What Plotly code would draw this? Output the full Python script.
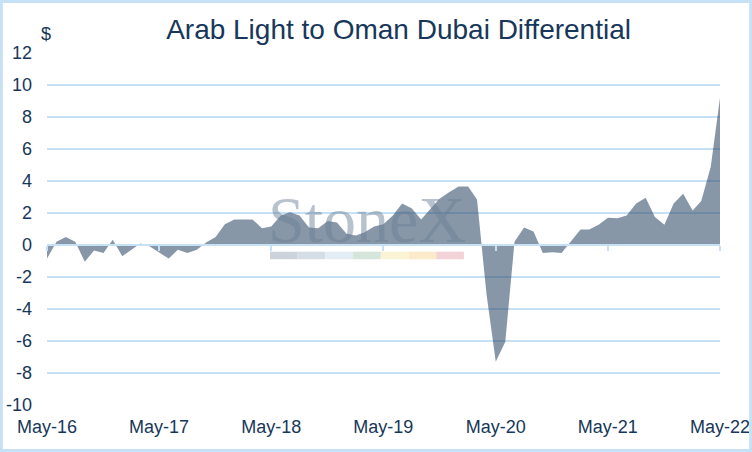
import plotly.graph_objects as go

# monthly differential, May-16 .. May-22 ($/bbl)
months = ["2016-%02d-01" % m for m in range(5, 13)]
for yr in range(2017, 2022):
    months += ["%d-%02d-01" % (yr, m) for m in range(1, 13)]
months += ["2022-%02d-01" % m for m in range(1, 6)]

differential = [
    -0.85, 0.2, 0.5, 0.2, -1.05, -0.35, -0.5, 0.33,
    -0.7, -0.25, 0.1, -0.1, -0.45, -0.85, -0.3, -0.5, -0.3, 0.15, 0.5, 1.3,
    1.6, 1.6, 1.6, 1.05, 1.15, 1.85, 2.05, 1.85, 1.1, 1.05, 1.5, 1.4,
    0.7, 0.6, 0.8, 1.15, 1.3, 1.85, 2.6, 2.3, 1.6, 2.25, 2.9, 3.3,
    3.65, 3.65, 2.85, -3.1, -7.3, -6.05, 0.2, 1.1, 0.85, -0.5, -0.45, -0.5,
    0.25, 0.97, 0.97, 1.26, 1.7, 1.67, 1.84, 2.6, 2.95, 1.75, 1.27, 2.6,
    3.2, 2.15, 2.75, 4.9, 9.2,
]

tick_dates = ["%d-05-01" % yr for yr in range(2016, 2023)]
tick_text = ["May-%d" % (yr % 100) for yr in range(2016, 2023)]
y_ticks = list(range(-10, 13, 2))
y_tick_text = [str(v) for v in y_ticks]  # plain hyphen minus, as in the original

navy = "#17375a"
grid = "#c6e0f6"

fig = go.Figure()

fig.add_trace(go.Scatter(
    x=months, y=differential,
    mode="lines",
    line=dict(width=0, color="rgba(0,0,0,0)"),
    fill="tozeroy",
    fillcolor="rgba(35,62,92,0.54)",
    hoverinfo="x+y",
    showlegend=False,
))

# invisible trace to carry the zero-line axis with ticks
fig.add_trace(go.Scatter(x=months, y=differential, xaxis="x2", mode="lines",
                         line=dict(width=0), showlegend=False, hoverinfo="skip"))

fig.update_layout(
    width=752, height=452,
    margin=dict(l=47, r=32, t=53, b=47),
    paper_bgcolor="white",
    plot_bgcolor="white",
    font=dict(family="Liberation Sans, Arial, sans-serif", color=navy),
    title=dict(text="Arab Light to Oman Dubai Differential",
               x=0.53, xanchor="center", y=0.935, yanchor="middle",
               font=dict(size=28, color=navy)),
    xaxis=dict(
        range=[months[0], months[-1]], automargin=False,
        tickvals=tick_dates, ticktext=tick_text,
        showgrid=False, zeroline=False, showline=False,
        ticks="", ticklabelstandoff=9, tickfont=dict(size=18, color=navy),
    ),
    xaxis2=dict(
        range=[months[0], months[-1]], automargin=False,
        overlaying="x", anchor="free", position=10 / 22,
        tickvals=tick_dates, showticklabels=False,
        showgrid=False, zeroline=False,
        showline=True, linecolor=grid, linewidth=1.5,
        ticks="outside", ticklen=5, tickwidth=1.5, tickcolor=grid,
        layer="above traces",
    ),
    yaxis=dict(
        range=[-10, 12], tickvals=y_ticks, ticktext=y_tick_text, automargin=False,
        showgrid=True, gridcolor=grid, gridwidth=1.5,
        zeroline=False, showline=False, ticks="", ticklabelstandoff=14,
        tickfont=dict(size=18, color=navy),
    ),
    annotations=[
        dict(text="$", xref="paper", yref="paper", x=-0.002, y=1.055,
             xanchor="center", yanchor="middle", showarrow=False,
             font=dict(size=18, color=navy)),
        dict(text="StoneX", xref="paper", yref="paper", x=0.475, y=0.527,
             xanchor="center", yanchor="middle", showarrow=False,
             font=dict(family="Liberation Serif, Times New Roman, serif",
                       size=66, color="rgba(105,125,148,0.47)")),
    ],
)

# StoneX colour strip under the watermark
strip_colors = ["#cdd3db", "#d5dde7", "#e3edf6", "#d6e5d9", "#faf3d4", "#fcebcb", "#f3d3d7"]
x0, seg = (270 - 47) / 673, 27.7 / 673
for i, c in enumerate(strip_colors):
    fig.add_shape(type="rect", xref="paper", yref="paper",
                  x0=x0 + i * seg, x1=x0 + (i + 1) * seg, y0=0.414, y1=0.4355,
                  fillcolor=c, line=dict(width=0), layer="below")

# light blue frame around the whole chart
fig.add_shape(type="rect", xref="paper", yref="paper",
              x0=-47 / 673 + 0.002, x1=1 + 32 / 673 - 0.002,
              y0=-47 / 352 + 0.004, y1=1 + 53 / 352 - 0.004,
              line=dict(color=grid, width=3), fillcolor="rgba(0,0,0,0)")

fig.write_html("out.html", config={"displayModeBar": False},
               post_script="document.body.style.margin='0';")
